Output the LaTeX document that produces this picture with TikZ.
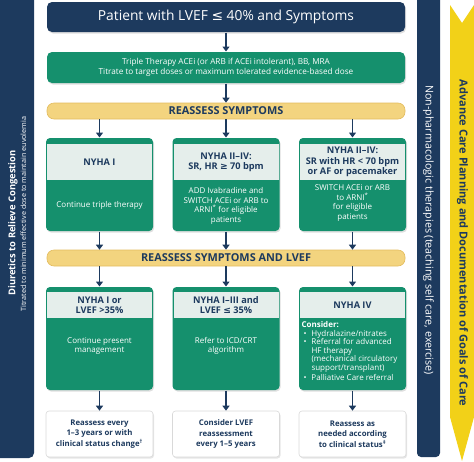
\documentclass[tikz,border=0pt]{standalone}
\usepackage{fontspec}
\setmainfont{Open Sans}
\newfontfamily\symfont{DejaVu Sans}
\usepackage{xcolor}
\definecolor{NAVYcolor}{HTML}{1D3A5E}
\definecolor{GDMTcolor}{HTML}{15906D}
\definecolor{HEADcolor}{HTML}{E5EEEB}
\definecolor{REAScolor}{HTML}{F3D47F}
\definecolor{REASborder}{HTML}{E3BC5E}
\definecolor{ACPcolor}{HTML}{F2D118}
\usepackage{tikz}
\usetikzlibrary{%
        calc,
        math,
        shadows, % 阴影
        arrows.meta, % 箭头
    }

\begin{document}
\begin{tikzpicture}[x=1pt, y=-1pt, line width=1pt]
    \tikzmath{%
        % 宽
        \wmain=358;
        \wcol=107;
        \whead=\wcol-2;
        % 列中心
        \xA=99.5;
        \xB=226;
        \xC=352.5;
        % 行
        \yboxA=184.5;
        \hboxA=93;
        \yheadA=162;
        \hheadA=36;
        \yboxB=338.5;
        \hboxB=103;
        \yheadB=305;
        \hheadB=26;
    };

    \tikzset{%
        topbox/.style={fill=NAVYcolor, rounded corners=5pt, minimum width=\wmain pt, minimum height=30pt, inner sep=0pt,
                text=white, font=\fontsize{13.8}{16}\selectfont, drop shadow={opacity=0.25, shadow xshift=1pt, shadow yshift=-1.5pt}},
        tripbox/.style={fill=GDMTcolor, rounded corners=5pt, minimum width=\wmain pt, minimum height=31pt, inner sep=0pt,
                align=center, text=white, font=\fontsize{8.2}{10.5}\selectfont, drop shadow={opacity=0.25, shadow xshift=1pt, shadow yshift=-1.5pt}},
        reasbox/.style={fill=REAScolor, draw=REASborder, line width=0.6pt, rounded corners=7pt, minimum width=\wmain pt, minimum height=16pt,
                inner sep=0pt, text=NAVYcolor, font=\fontsize{10.9}{12}\selectfont\bfseries},
        gbox/.style={fill=GDMTcolor, rounded corners=4pt, minimum width=\wcol pt, inner sep=0pt,
                drop shadow={opacity=0.25, shadow xshift=1pt, shadow yshift=-1.5pt}},
        hbox/.style={fill=HEADcolor, minimum width=\whead pt, inner sep=0pt, align=center, text=NAVYcolor,
                font=\fontsize{9.2}{10.2}\selectfont\bfseries},
        btext/.style={inner sep=0pt, align=center, text=white, font=\fontsize{8}{9.4}\selectfont},
        wbox/.style={fill=white, draw=black!15, line width=0.6pt, rounded corners=3pt, minimum width=\wcol pt, minimum height=46pt,
                inner sep=0pt, align=center, text=NAVYcolor, font=\fontsize{7.8}{10.5}\selectfont\bfseries,
                drop shadow={opacity=0.2, shadow xshift=1pt, shadow yshift=-1.5pt}},
        arr/.style={draw=NAVYcolor, line width=1.6pt, -{Triangle[length=5pt, width=7pt]}},
    }

    \useasboundingbox (0, 0) rectangle (474, 461);

    % 两侧
    \fill [NAVYcolor, rounded corners=5pt] (-5, -6) rectangle (34, 458);
    \node (diurT) [rotate=90, text=white, font=\fontsize{9.4}{11}\selectfont\bfseries] at (13, 223) {Diuretics to Relieve Congestion};
    \node (diurS) [rotate=90, text=white, font=\fontsize{7.2}{8}\selectfont] at (23.5, 214) {Titrated to minimum effective dose to maintain euvolemia};
    \fill [NAVYcolor, rounded corners=4pt] (417, -6) rectangle (440, 457);
    \node (nonpharm) [rotate=-90, text=white, font=\fontsize{10.7}{12}\selectfont] at (428.5, 230) {Non-pharmacologic therapies (teaching self care, exercise)};
    \fill [ACPcolor] (450, 5) -- (462, 23) -- (474, 5) -- (474, 417) -- (462, 461) -- (450, 417) -- cycle;
    \node (acp) [rotate=-90, text=NAVYcolor, font=\fontsize{11}{13}\selectfont\bfseries] at (462.5, 243) {Advance Care Planning and Documentation of Goals of Care};

    % 顶部
    \node (patient) [topbox] at (\xB, 17) {Patient with LVEF {\symfont ≤} 40\% and Symptoms};
    \node (triple) [tripbox] at (\xB, 67.5) {Triple Therapy ACEi (or ARB if ACEi intolerant), BB, MRA\\
        Titrate to target doses or maximum tolerated evidence-based dose};
    \node (reasS) [reasbox] at (\xB, 111) {REASSESS SYMPTOMS};
    \draw [arr] (patient) -- (triple);
    \draw [arr] (triple) -- (reasS);

    % 第一行
    \node (symA) [gbox, minimum height=\hboxA pt] at (\xA, \yboxA) {};
    \node (symB) [gbox, minimum height=\hboxA pt] at (\xB, \yboxA) {};
    \node (symC) [gbox, minimum height=\hboxA pt] at (\xC, \yboxA) {};
    \node (nyhaA) [hbox, minimum height=\hheadA pt] at (\xA, \yheadA) {NYHA I};
    \node (nyhaB) [hbox, minimum height=\hheadA pt] at (\xB, \yheadA) {NYHA II–IV:\\SR, HR {\symfont ≥} 70 bpm};
    \node (nyhaC) [hbox, minimum height=\hheadA pt] at (\xC, \yheadA) {NYHA II–IV:\\SR with HR < 70 bpm\\or AF or pacemaker};
    \node (txA) [btext] at (\xA, 205) {Continue triple therapy};
    \node (txB) [btext] at (\xB, 206) {ADD Ivabradine and\\SWITCH ACEi or ARB to\\ARNI\textsuperscript{*} for eligible\\patients};
    \node (txC) [btext] at (\xC, 203) {SWITCH ACEi or ARB\\to ARNI\textsuperscript{*}\\for eligible\\patients};
    \foreach \n in {symA, symB, symC} {%
            \draw [arr] (reasS.south -| \n.north) -- (\n.north);
        }

    \node (reasL) [reasbox] at (\xB, 258) {REASSESS SYMPTOMS AND LVEF};
    \foreach \n in {symA, symB, symC} {%
            \draw [arr] (\n.south) -- (reasL.north -| \n.south);
        }

    % 第二行
    \node (lvefA) [gbox, minimum height=\hboxB pt] at (\xA, \yboxB) {};
    \node (lvefB) [gbox, minimum height=\hboxB pt] at (\xB, \yboxB) {};
    \node (lvefC) [gbox, minimum height=\hboxB pt] at (\xC, \yboxB) {};
    \node (classA) [hbox, minimum height=\hheadB pt] at (\xA, \yheadB) {NYHA I or\\LVEF >35\%};
    \node (classB) [hbox, minimum height=\hheadB pt] at (\xB, \yheadB) {NYHA I–III and\\LVEF {\symfont ≤} 35\%};
    \node (classC) [hbox, minimum height=\hheadB pt] at (\xC, \yheadB) {NYHA IV};
    \node (mgmtA) [btext] at (\xA, 346) {Continue present\\management};
    \node (mgmtB) [btext] at (\xB, 346) {Refer to ICD/CRT\\algorithm};
    \node (mgmtC) [btext, align=left, anchor=north west, font=\fontsize{8}{8.5}\selectfont] at ($ (lvefC.west |- classC.south) + (2.5, 2.5) $) {%
        \textbf{Consider:}\\
        \hspace*{2pt}\makebox[8pt][l]{\textbullet}Hydralazine/nitrates\\
        \hspace*{2pt}\makebox[8pt][l]{\textbullet}Referral for advanced\\
        \hspace*{10pt}HF therapy\\
        \hspace*{10pt}(mechanical circulatory\\
        \hspace*{10pt}support/transplant)\\[2pt]
        \hspace*{2pt}\makebox[8pt][l]{\textbullet}Palliative Care referral};
    \foreach \n in {lvefA, lvefB, lvefC} {%
            \draw [arr] (reasL.south -| \n.north) -- (\n.north);
        }

    % 底部
    \node (followA) [wbox] at (\xA, 434) {Reassess every\\1–3 years or with\\clinical status change\textsuperscript{†}};
    \node (followB) [wbox] at (\xB, 434) {Consider LVEF\\reassessment\\every 1–5 years};
    \node (followC) [wbox] at (\xC, 434) {Reassess as\\needed according\\to clinical status\textsuperscript{‡}};
    \draw [arr] (lvefA) -- (followA);
    \draw [arr] (lvefB) -- (followB);
    \draw [arr] (lvefC) -- (followC);
\end{tikzpicture}
\end{document}
